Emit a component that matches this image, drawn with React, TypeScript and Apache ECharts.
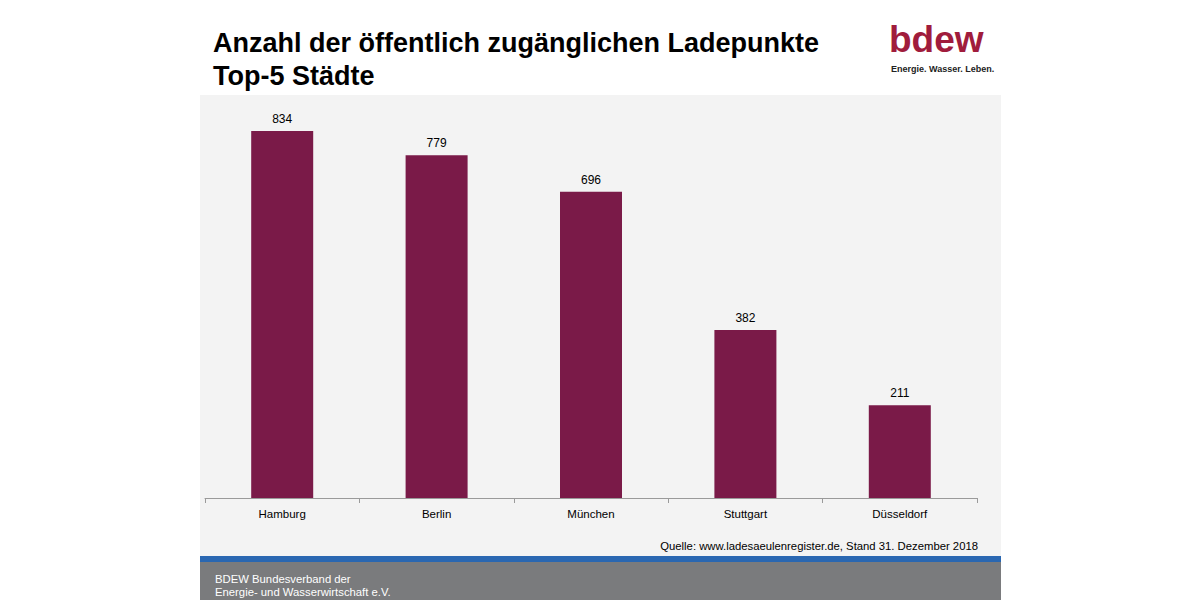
import React, { useEffect, useRef } from "react";
import * as echarts from "echarts";

const categories = ["Hamburg", "Berlin", "München", "Stuttgart", "Düsseldorf"];
const values = [834, 779, 696, 382, 211];

const titleLines = ["Anzahl der öffentlich zugänglichen Ladepunkte", "Top-5 Städte"];
const sourceText = "Quelle: www.ladesaeulenregister.de, Stand 31. Dezember 2018";
const footerLines = ["BDEW Bundesverband der", "Energie- und Wasserwirtschaft e.V."];

const FONT = "'Liberation Sans', Arial, Helvetica, sans-serif";

export default function App() {
  const ref = useRef<HTMLDivElement>(null);
  useEffect(() => {
    if (!ref.current) return;
    const chart = echarts.init(ref.current, undefined, { renderer: "svg" });
    chart.setOption({
      animation: false,
      backgroundColor: "#ffffff",
      textStyle: { fontFamily: FONT },
      graphic: [
        { type: "rect", silent: true, z: -10, shape: { x: 200, y: 95, width: 801, height: 461 }, style: { fill: "#f3f3f3" } },
        { type: "rect", silent: true, z: -10, shape: { x: 200, y: 556, width: 801, height: 6 }, style: { fill: "#2a67b1" } },
        { type: "rect", silent: true, z: -10, shape: { x: 200, y: 562, width: 801, height: 38 }, style: { fill: "#7a7b7d" } },
        { type: "text", x: 213, y: 56, style: { text: titleLines[0], font: `bold 27px ${FONT}`, fill: "#000", textVerticalAlign: "bottom" } },
        { type: "text", x: 213, y: 89, style: { text: titleLines[1], font: `bold 27px ${FONT}`, fill: "#000", textVerticalAlign: "bottom" } },
        { type: "text", x: 889, y: 58, style: { text: "bdew", font: `bold 37px ${FONT}`, fill: "#a01c3c", textVerticalAlign: "bottom" } },
        { type: "text", x: 891, y: 73, style: { text: "Energie. Wasser. Leben.", font: `bold 9px ${FONT}`, fill: "#222", textVerticalAlign: "bottom" } },
        { type: "text", x: 978, y: 551, style: { text: sourceText, font: `11.3px ${FONT}`, fill: "#000", textAlign: "right", textVerticalAlign: "bottom" } },
        { type: "text", x: 215, y: 584, style: { text: footerLines[0], font: `11.3px ${FONT}`, fill: "#fff", textVerticalAlign: "bottom" } },
        { type: "text", x: 215, y: 597, style: { text: footerLines[1], font: `11.3px ${FONT}`, fill: "#fff", textVerticalAlign: "bottom" } },
      ],
      grid: { left: 205, right: 223, top: 102, bottom: 102, containLabel: false },
      xAxis: {
        type: "category",
        data: categories,
        axisLine: { show: true, lineStyle: { color: "#9a9a9a", width: 1 } },
        axisTick: { show: true, length: 5, lineStyle: { color: "#9a9a9a" } },
        axisLabel: { color: "#000", fontSize: 11.5, margin: 10, fontFamily: FONT },
      },
      yAxis: {
        type: "value",
        min: 0,
        max: 900,
        show: false,
        splitLine: { show: false },
      },
      series: [
        {
          type: "bar",
          data: values,
          barWidth: 62,
          itemStyle: { color: "#7a1a48" },
          label: { show: true, position: "top", distance: 6, color: "#000", fontSize: 12, fontFamily: FONT },
        },
      ],
    });
    return () => chart.dispose();
  }, []);
  return <div ref={ref} style={{ width: 1200, height: 600, position: "absolute", left: 0, top: 0 }} />;
}
